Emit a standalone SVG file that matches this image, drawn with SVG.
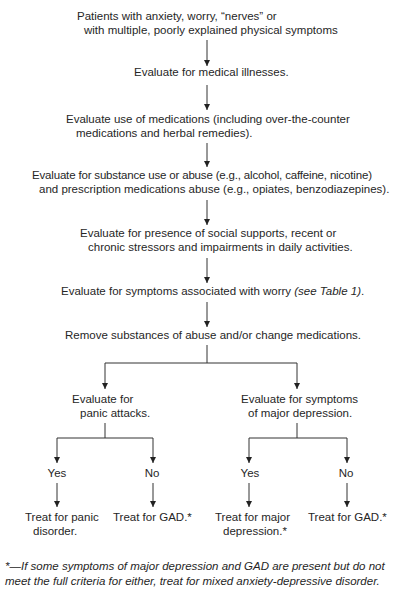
<svg xmlns="http://www.w3.org/2000/svg" width="400" height="601" viewBox="0 0 400 601">
<style>
text{font-family:"Liberation Sans",Arial,sans-serif;font-size:11.5px;fill:#262626}
.it{font-style:italic}
.c line{stroke:#333;stroke-width:1;fill:none}
</style>
<defs>
<marker id="ah" markerUnits="userSpaceOnUse" markerWidth="6" markerHeight="7" refX="6" refY="3" orient="auto">
<path d="M0,0 L6,3 L0,6 z" fill="#222"/>
</marker>
</defs>
<rect width="400" height="601" fill="#fff"/>
<g id="n1"><text x="77" y="20">Patients with anxiety, worry, “nerves” or</text><text x="84" y="34">with multiple, poorly explained physical symptoms</text></g>
<g id="n2"><text x="134" y="76">Evaluate for medical illnesses.</text></g>
<g id="n3"><text x="66" y="123">Evaluate use of medications (including over-the-counter</text><text x="76" y="137">medications and herbal remedies).</text></g>
<g id="n4"><text x="32" y="179" textLength="340" lengthAdjust="spacing">Evaluate for substance use or abuse (e.g., alcohol, caffeine, nicotine)</text><text x="39" y="193">and prescription medications abuse (e.g., opiates, benzodiazepines).</text></g>
<g id="n5"><text x="80" y="237">Evaluate for presence of social supports, recent or</text><text x="88" y="251">chronic stressors and impairments in daily activities.</text></g>
<g id="n6"><text x="61" y="295">Evaluate for symptoms associated with worry <tspan class="it">(see Table 1)</tspan>.</text></g>
<g id="n7"><text x="65" y="339">Remove substances of abuse and/or change medications.</text></g>
<g id="n8"><text x="72" y="403">Evaluate for</text><text x="80" y="417">panic attacks.</text></g>
<g id="n9"><text x="241" y="403">Evaluate for symptoms</text><text x="248" y="417">of major depression.</text></g>
<g id="n10"><text x="57" y="477" text-anchor="middle">Yes</text></g>
<g id="n11"><text x="152" y="477" text-anchor="middle">No</text></g>
<g id="n12"><text x="250" y="477" text-anchor="middle">Yes</text></g>
<g id="n13"><text x="346" y="477" text-anchor="middle">No</text></g>
<g id="n14"><text x="25" y="521">Treat for panic</text><text x="33" y="535">disorder.</text></g>
<g id="n15"><text x="113" y="521">Treat for GAD.*</text></g>
<g id="n16"><text x="215" y="521">Treat for major</text><text x="223" y="535">depression.*</text></g>
<g id="n17"><text x="308" y="521">Treat for GAD.*</text></g>
<g id="note"><text class="it" x="5" y="570">*—If some symptoms of major depression and GAD are present but do not</text><text class="it" x="5" y="585">meet the full criteria for either, treat for mixed anxiety-depressive disorder.</text></g>
<g class="c" id="connectors">
<line x1="207" y1="40" x2="207" y2="66" marker-end="url(#ah)"/>
<line x1="207" y1="85" x2="207" y2="110" marker-end="url(#ah)"/>
<line x1="207" y1="143" x2="207" y2="167" marker-end="url(#ah)"/>
<line x1="207" y1="200" x2="207" y2="225" marker-end="url(#ah)"/>
<line x1="207" y1="258" x2="207" y2="283" marker-end="url(#ah)"/>
<line x1="207" y1="302" x2="207" y2="327" marker-end="url(#ah)"/>
<line x1="207" y1="345" x2="207" y2="363"/>
<line x1="105" y1="363" x2="297" y2="363"/>
<line x1="105" y1="363" x2="105" y2="389" marker-end="url(#ah)"/>
<line x1="297" y1="363" x2="297" y2="389" marker-end="url(#ah)"/>
<line x1="105" y1="423" x2="105" y2="438"/>
<line x1="57" y1="438" x2="153" y2="438"/>
<line x1="57" y1="438" x2="57" y2="463" marker-end="url(#ah)"/>
<line x1="153" y1="438" x2="153" y2="463" marker-end="url(#ah)"/>
<line x1="297" y1="423" x2="297" y2="438"/>
<line x1="249" y1="438" x2="347" y2="438"/>
<line x1="249" y1="438" x2="249" y2="463" marker-end="url(#ah)"/>
<line x1="347" y1="438" x2="347" y2="463" marker-end="url(#ah)"/>
<line x1="57" y1="483" x2="57" y2="507" marker-end="url(#ah)"/>
<line x1="153" y1="483" x2="153" y2="507" marker-end="url(#ah)"/>
<line x1="249" y1="483" x2="249" y2="507" marker-end="url(#ah)"/>
<line x1="347" y1="483" x2="347" y2="507" marker-end="url(#ah)"/>
</g>
</svg>
